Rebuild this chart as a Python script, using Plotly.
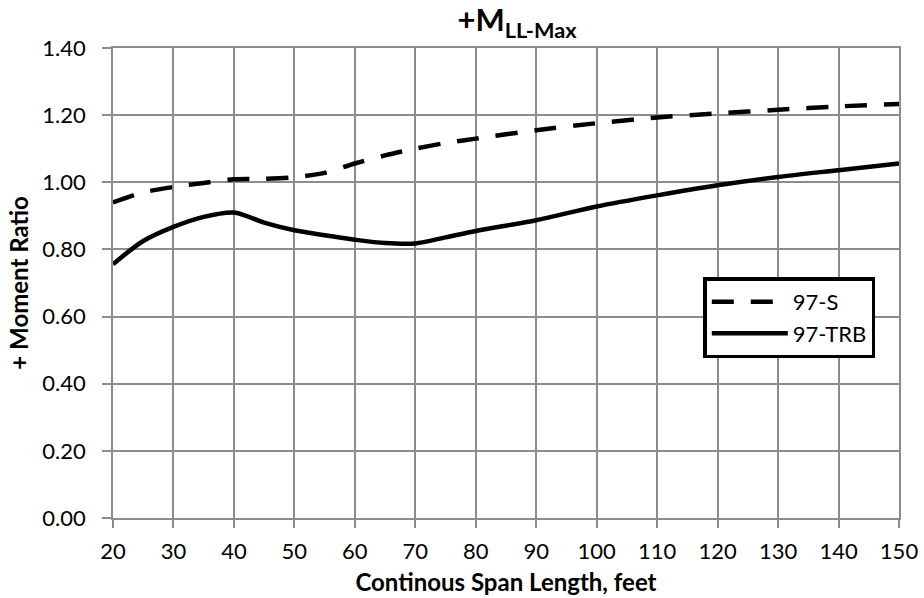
import plotly.graph_objects as go

# Continuous span lengths (feet)
span_ft = [20, 25, 30, 35, 40, 45, 50, 55, 60, 65, 70, 75, 80, 90, 100, 110, 120, 130, 140, 150]

# Positive live-load moment ratios
ratio_97s = [0.940, 0.970, 0.986, 0.998, 1.009, 1.010, 1.015, 1.028, 1.056, 1.080,
             1.100, 1.117, 1.130, 1.155, 1.176, 1.193, 1.205, 1.216, 1.226, 1.233]
ratio_97trb = [0.756, 0.825, 0.867, 0.897, 0.910, 0.880, 0.857, 0.842, 0.829, 0.819,
               0.818, 0.836, 0.855, 0.887, 0.928, 0.961, 0.991, 1.016, 1.036, 1.056]

y_ticks = [0.0, 0.2, 0.4, 0.6, 0.8, 1.0, 1.2, 1.4]
x_ticks = list(range(20, 151, 10))

FONT = "Lato, 'Open Sans', sans-serif"
GRID = "#8c8c8c"

fig = go.Figure()
fig.add_trace(go.Scatter(
    x=span_ft, y=ratio_97s, name="97-S", mode="lines",
    line=dict(color="black", width=4.5, dash="22px,17px", shape="spline", smoothing=0.8),
))
fig.add_trace(go.Scatter(
    x=span_ft, y=ratio_97trb, name="97-TRB", mode="lines",
    line=dict(color="black", width=4.5, shape="spline", smoothing=0.8),
))

fig.update_layout(
    width=924, height=598,
    margin=dict(l=113, r=25, t=48, b=80),
    paper_bgcolor="white", plot_bgcolor="white",
    font=dict(family=FONT, color="black", size=22),
    title=dict(
        text="<b>+M<sub>LL-Max</sub></b>",
        x=517 / 924, xanchor="center",
        y=0.966, yanchor="middle",
        font=dict(size=31, family=FONT),
    ),
    showlegend=True,
    legend=dict(
        x=0.751, y=0.512, xanchor="left", yanchor="top",
        bgcolor="white", bordercolor="black", borderwidth=3.5,
        font=dict(size=22, family=FONT),
        itemwidth=76, tracegroupgap=0,
    ),
    xaxis=dict(
        range=[20, 150], tickvals=x_ticks, ticktext=[str(v) for v in x_ticks],
        showgrid=True, gridcolor=GRID, gridwidth=1.5,
        showline=True, linecolor=GRID, linewidth=1.5, mirror=True,
        ticks="outside", ticklen=8, tickcolor=GRID, tickwidth=1.5,
        ticklabelstandoff=5, automargin=False,
        zeroline=False,
        title=dict(text="<b>Continous Span Length, feet</b>", font=dict(size=24), standoff=11),
    ),
    yaxis=dict(
        range=[0, 1.4], tickvals=y_ticks, ticktext=[f"{v:.2f}" for v in y_ticks],
        showgrid=True, gridcolor=GRID, gridwidth=1.5,
        showline=True, linecolor=GRID, linewidth=1.5, mirror=True,
        ticks="outside", ticklen=9, tickcolor=GRID, tickwidth=1.5,
        ticklabelstandoff=12, automargin=False,
        zeroline=False,
        title=dict(text="<b>+ Moment Ratio</b>", font=dict(size=24), standoff=7),
    ),
)

fig.write_html("out.html")
